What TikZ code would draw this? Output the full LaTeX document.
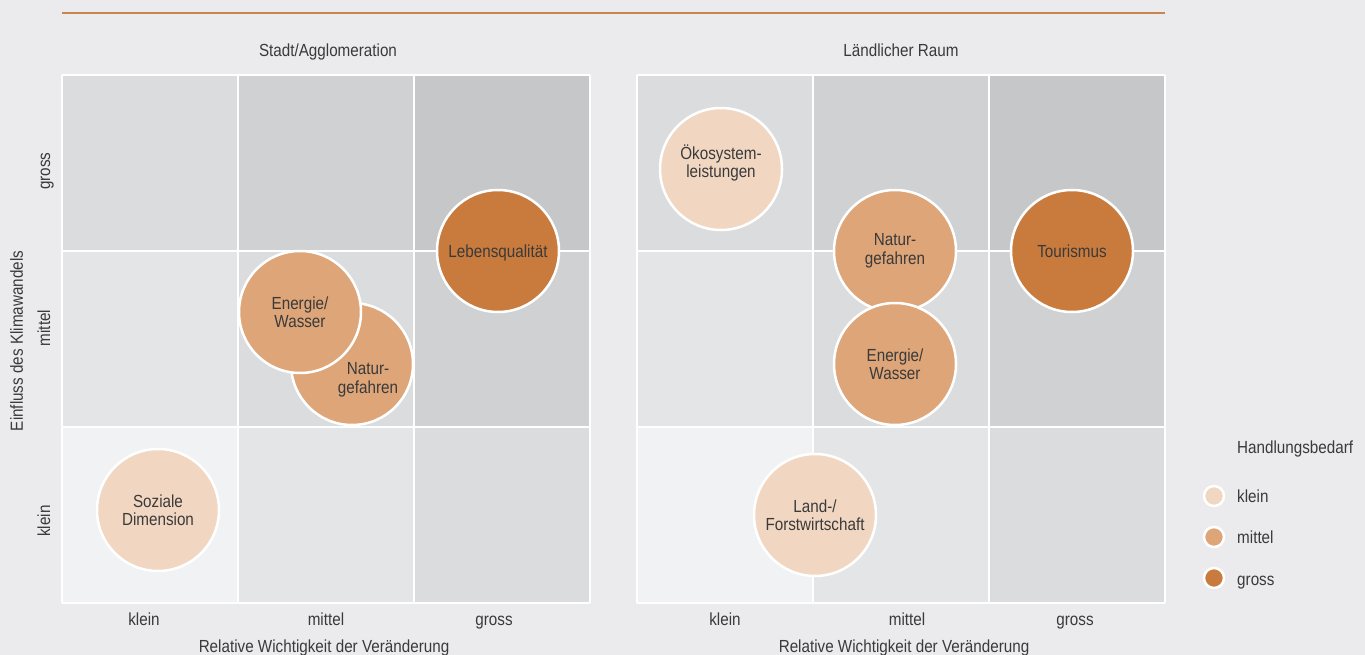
\documentclass[tikz,border=0pt]{standalone}
\usepackage{fontspec}
\setmainfont{Liberation Sans}[FakeStretch=0.87]
\definecolor{bg}{HTML}{EBEBED}
\definecolor{cA}{HTML}{F1F2F4}
\definecolor{cB}{HTML}{E4E5E7}
\definecolor{cC}{HTML}{DBDCDE}
\definecolor{cD}{HTML}{D0D1D3}
\definecolor{cE}{HTML}{C6C7C9}
\definecolor{lowc}{HTML}{F1D7C2}
\definecolor{midc}{HTML}{DDA578}
\definecolor{highc}{HTML}{C97B3D}
\definecolor{rulec}{HTML}{C8864E}
\definecolor{txt}{HTML}{3A3A3A}
\tikzset{
  lbl/.style={text=txt, font=\fontsize{17.5}{18.5}\selectfont, inner sep=0pt, align=center},
  ax/.style={lbl, anchor=base},
  lg/.style={lbl, anchor=base west},
  bubble/.style={circle, draw=white, line width=2.5pt, minimum size=122pt, inner sep=0pt, lbl},
  lowb/.style={bubble, fill=lowc},
  midb/.style={bubble, fill=midc},
  highb/.style={bubble, fill=highc},
  dot/.style={circle, draw=white, line width=2.5pt, minimum size=20pt, inner sep=0pt},
  gridline/.style={draw=white, line width=2pt},
}
\begin{document}
\begin{tikzpicture}[x=1pt,y=-1pt]
\useasboundingbox[fill=bg] (0,0) rectangle (1365,655);
\draw[rulec, line width=2pt] (62,13) -- (1165,13);
% grids
\foreach \ox in {62,637}{
  \foreach \i in {0,1,2}{
    \foreach \j in {0,1,2}{
      \pgfmathtruncatemacro\lv{\i+2-\j}
      \ifcase\lv \def\cc{cA}\or \def\cc{cB}\or \def\cc{cC}\or \def\cc{cD}\or \def\cc{cE}\fi
      \fill[\cc] ({\ox+176*\i},{75+176*\j}) rectangle ({\ox+176*\i+176},{75+176*\j+176});
    }
  }
  \foreach \k in {0,1,2,3}{
    \draw[gridline] ({\ox+176*\k},75) -- ({\ox+176*\k},603);
    \draw[gridline] (\ox,{75+176*\k}) -- ({\ox+528},{75+176*\k});
  }
}
% titles
\node[ax] (t1) at (328,57) {Stadt/Agglomeration};
\node[ax] (t2) at (901,57) {Ländlicher Raum};
% x axis labels
\node[ax] (xl1) at (144,625) {klein};
\node[ax] (xm1) at (326,625) {mittel};
\node[ax] (xg1) at (494,625) {gross};
\node[ax] (xl2) at (725,625) {klein};
\node[ax] (xm2) at (907,625) {mittel};
\node[ax] (xg2) at (1075,625) {gross};
\node[ax] (xa1) at (324,652) {Relative Wichtigkeit der Veränderung};
\node[ax] (xa2) at (904,652) {Relative Wichtigkeit der Veränderung};
% y axis labels
\node[ax, rotate=90] (yg) at (50,171) {gross};
\node[ax, rotate=90] (ym) at (50,328) {mittel};
\node[ax, rotate=90] (yk) at (50,521) {klein};
\node[ax, rotate=90] (ya) at (23,341) {Einfluss des Klimawandels};
% bubbles left
\node[lowb] (soz) at (158,510) {Soziale\\Dimension};
\node[highb] (leb) at (498,251) {\raisebox{0pt}[\height][0pt]{Lebensqualität}};
\node[midb] (nat1) at (352,364) {};
\node[lbl] (nat1t) at (368,380) {Natur-\\gefahren};
\node[midb] (ene1) at (300,312) {Energie/\\Wasser};
% bubbles right
\node[lowb] (oko) at (721,169) {\\[-16pt]Ökosystem-\\leistungen};
\node[midb] (nat2) at (895,251) {Natur-\\gefahren};
\node[midb] (ene2) at (895,364) {Energie/\\Wasser};
\node[highb] (tou) at (1072,251) {Tourismus};
\node[lowb] (land) at (815,515) {Land-/\\Forstwirtschaft};
% legend
\node[lg] (lt) at (1237,453) {Handlungsbedarf};
\node[dot, fill=lowc] (d1) at (1214,496) {};
\node[dot, fill=midc] (d2) at (1214,537) {};
\node[dot, fill=highc] (d3) at (1214,578) {};
\node[lg] (l1) at (1237,502) {klein};
\node[lg] (l2) at (1237,543) {mittel};
\node[lg] (l3) at (1237,585) {gross};
\end{tikzpicture}
\end{document}
